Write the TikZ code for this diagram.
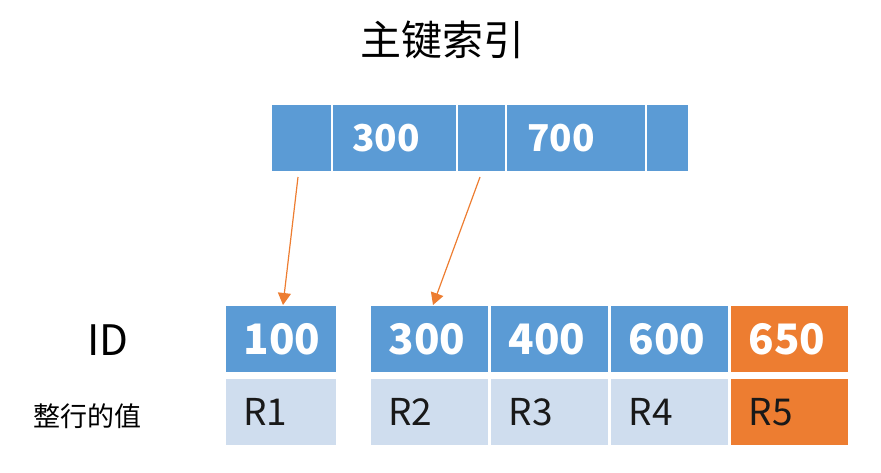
\documentclass[tikz,border=0pt]{standalone}
\usepackage{fontspec}
\setmainfont{Noto Sans CJK SC}
\usepackage{tikz}
\usetikzlibrary{arrows.meta}
\definecolor{keyblue}{RGB}{91,155,213}
\definecolor{rowblue}{RGB}{207,221,238}
\definecolor{hotorange}{RGB}{237,125,49}
\tikzset{every picture/.append style={x=1pt,y=1pt}}
\tikzset{cell/.style={draw=white, line width=3pt, minimum height=69pt, inner ysep=0pt, inner xsep=19pt, align=left}}
\tikzset{idcell/.style={cell, fill=keyblue, text=white, font=\fontsize{42}{42}\selectfont\bfseries}}
\tikzset{rowcell/.style={cell, fill=rowblue, text=black!90, font=\fontsize{37}{37}\selectfont}}
\tikzset{hotcell/.style={fill=hotorange}}
\tikzset{keycell/.style={draw=white, line width=2pt, fill=keyblue, minimum height=68pt, inner ysep=0pt, align=left, text=white, font=\fontsize{37}{37}\selectfont\bfseries}}
\tikzset{pointer/.style={hotorange, line width=1.2pt, -{Triangle[length=12pt,width=13pt]}}}

\begin{document}
\begin{tikzpicture}
  \useasboundingbox (0,0) rectangle (881,-472);
  \node (title) at (442,-40)[font=\fontsize{41}{41}\selectfont]{主键索引};

  % index page
  \node (k1) at (301.5,-138)[keycell, minimum width=61pt]{};
  \node (k2) at (394.5,-138)[keycell, text width=85pt, inner xsep=20pt]{300};
  \node (k3) at (481.5,-138)[keycell, minimum width=49pt]{};
  \node (k4) at (576,-138)[keycell, text width=98pt, inner xsep=21pt]{700};
  \node (k5) at (667.5,-138)[keycell, minimum width=43pt]{};

  \node (idlabel) at (108,-340)[font=\fontsize{42}{42}\selectfont]{ID};
  \node (rowlabel) at (87,-416)[font=\fontsize{27}{27}\selectfont]{整行的值};

  % leaf pages
  \node (d1) at (281,-339)[idcell, text width=75pt]{100};
  \node (d2) at (429.5,-339)[idcell, text width=82pt]{300};
  \node (d3) at (549.5,-339)[idcell, text width=82pt]{400};
  \node (d4) at (669.5,-339)[idcell, text width=82pt]{600};
  \node (d5) at (789.5,-339)[idcell, hotcell, text width=82pt]{650};
  \node (r1) at (281,-412)[rowcell, text width=75pt]{R1};
  \node (r2) at (429.5,-412)[rowcell, text width=82pt]{R2};
  \node (r3) at (549.5,-412)[rowcell, text width=82pt]{R3};
  \node (r4) at (669.5,-412)[rowcell, text width=82pt]{R4};
  \node (r5) at (789.5,-412)[rowcell, hotcell, text width=82pt]{R5};

  \draw[pointer] ([xshift=-3.5pt,yshift=-4pt]k1.south) -- ([xshift=2pt,yshift=-2pt]d1.north);
  \draw[pointer] ([xshift=-1.5pt,yshift=-4pt]k3.south) -- ([xshift=3.5pt,yshift=-2pt]d2.north);
\end{tikzpicture}
\end{document}
